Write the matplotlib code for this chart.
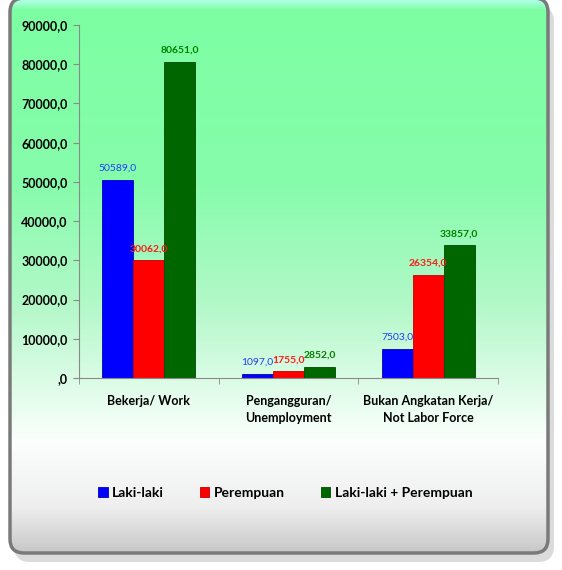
import matplotlib
matplotlib.use("Agg")
import matplotlib.pyplot as plt
import numpy as np
from matplotlib.patches import FancyBboxPatch, Patch
from matplotlib.colors import LinearSegmentedColormap

categories = ["Bekerja/ Work", "Pengangguran/\nUnemployment", "Bukan Angkatan Kerja/\nNot Labor Force"]
series_names = ["Laki-laki", "Perempuan", "Laki-laki + Perempuan"]
laki = [50589.0, 1097.0, 7503.0]
perempuan = [30062.0, 1755.0, 26354.0]
total = [80651.0, 2852.0, 33857.0]
yticks = [0, 10000, 20000, 30000, 40000, 50000, 60000, 70000, 80000, 90000]

plt.rcParams['font.family'] = ['Lato', 'DejaVu Sans']

W, H = 562, 570
fig = plt.figure(figsize=(W / 100, H / 100), dpi=100)
fig.patch.set_facecolor("white")

# background frame with gradient
bg = fig.add_axes([0, 0, 1, 1], zorder=0)
bg.set_xlim(0, W)
bg.set_ylim(H, 0)
bg.axis("off")
shadow = FancyBboxPatch((14, 6), 540, 556, boxstyle="round,pad=0,rounding_size=16",
                        fc="#d2d2d2", ec="none", alpha=0.8)
bg.add_patch(shadow)
frame = FancyBboxPatch((10, -2), 538, 555, boxstyle="round,pad=0,rounding_size=14",
                       fc="none", ec="#7a7a7a", lw=2.5, zorder=3)
bg.add_patch(frame)
cmap = LinearSegmentedColormap.from_list("g", [(0.0, "#b8fff0"), (0.02, "#7dffa3"),
                                               (0.33, "#86fcab"), (0.55, "#b2f8c8"),
                                               (0.80, "#fcfffd"), (0.92, "#eeeeee"),
                                               (1.0, "#c8c8c8")])
grad = np.linspace(0, 1, 256).reshape(-1, 1)
im = bg.imshow(grad, cmap=cmap, extent=[10, 548, 553, -2], aspect="auto", zorder=1)
im.set_clip_path(frame)

ax = fig.add_axes([79 / W, 1 - 378 / H, (498 - 79) / W, (378 - 25) / H], zorder=2)
ax.patch.set_alpha(0)
x = np.arange(len(categories))
w = 0.222
colors = ["#0000ff", "#ff0000", "#006600"]
edge_colors = ["#0000b0", "#c00000", "#004a00"]
label_colors = ["#1f3fff", "#ff1a1a", "#008000"]
label_weights = ["normal", "bold", "bold"]
for i, (vals, c) in enumerate(zip([laki, perempuan, total], colors)):
    pos = x + (i - 1) * w
    ax.bar(pos, vals, width=w, color=c, edgecolor=edge_colors[i], linewidth=0.6, zorder=2)
    for p, v in zip(pos, vals):
        s = f"{v:.1f}".replace(".", ",")
        ax.annotate(s, (p, v), xytext=(0, 5), textcoords="offset points",
                    ha="center", va="bottom", fontsize=7.5, color=label_colors[i],
                    fontweight=label_weights[i])

ax.set_xlim(-0.5, 2.5)
ax.set_ylim(0, 90000)
ax.set_yticks(yticks)
ax.set_yticklabels([(",0" if t == 0 else f"{t},0") for t in yticks],
                   fontsize=9, fontweight="bold")
ax.set_xticks(x)
ax.set_xticklabels(categories, fontsize=9, fontweight="bold", linespacing=1.5)
ax.tick_params(axis="x", length=0, pad=12)
ax.set_xticks([-0.5, 0.5, 1.5, 2.5], minor=True)
ax.tick_params(axis="x", which="minor", length=4, color="#8a8a8a")
ax.tick_params(axis="y", length=4, color="#8a8a8a", pad=4)
for s in ["top", "right"]:
    ax.spines[s].set_visible(False)
for s in ["left", "bottom"]:
    ax.spines[s].set_color("#8a8a8a")

handles = [Patch(facecolor=c, edgecolor=e, linewidth=0.6) for c, e in zip(colors, edge_colors)]
fig.legend(handles, series_names, loc="center", bbox_to_anchor=(285 / W, 1 - 493 / H),
           ncol=3, frameon=False, prop={"weight": "bold", "size": 10},
           handlelength=0.7, handleheight=0.7, handletextpad=0.3, columnspacing=2.6)

fig.savefig("out.png", dpi=100)
